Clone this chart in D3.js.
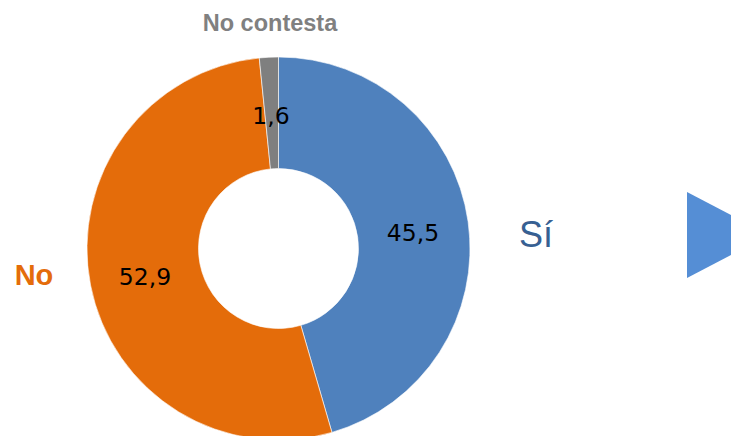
<!DOCTYPE html>
<html><head><meta charset="utf-8">
<script src="https://cdn.jsdelivr.net/npm/d3@7"></script>
<style>html,body{margin:0;padding:0;background:#fff;}svg{display:block;}</style>
</head><body>
<script>
const categories = ["Sí", "No", "No contesta"];
const values = [45.5, 52.9, 1.6];
const valueLabels = ["45,5", "52,9", "1,6"];
const colors = ["#4F81BD", "#E46C0A", "#7F7F7F"];

const W = 731, H = 436;
const svg = d3.select("body").append("svg").attr("width", W).attr("height", H);
const cx = 278.5, cy = 248.5, R = 191.5, r = 80;

const pie = d3.pie().sort(null).value(d => d.v);
const data = categories.map((c, i) => ({c, v: values[i], lab: valueLabels[i], col: colors[i]}));
const arcs = pie(data);
const arc = d3.arc().innerRadius(r).outerRadius(R);

const g = svg.append("g").attr("transform", `translate(${cx},${cy})`);
g.selectAll("path").data(arcs).enter().append("path")
  .attr("d", arc).attr("fill", d => d.data.col)
  .attr("stroke", "#fff").attr("stroke-width", 0.6);

// value label offsets from centre
const labPos = [[134.5, -15.5], [-133.5, 28.5], [-7.5, -132.5]];
g.selectAll("text.v").data(arcs).enter().append("text")
  .attr("class", "v")
  .attr("x", (d, i) => labPos[i][0]).attr("y", (d, i) => labPos[i][1])
  .attr("text-anchor", "middle").attr("dominant-baseline", "central")
  .attr("font-family", "DejaVu Sans, Verdana, sans-serif").attr("font-size", 23.5)
  .attr("fill", "#000").text(d => d.data.lab);

// category labels
svg.append("text").attr("x", 536).attr("y", 247).attr("text-anchor", "middle")
  .attr("font-family", "Liberation Sans, Arial, sans-serif").attr("font-size", 36)
  .attr("fill", "#376092").text(categories[0]);
svg.append("text").attr("x", 34).attr("y", 285).attr("text-anchor", "middle")
  .attr("font-family", "Liberation Sans, Arial, sans-serif").attr("font-size", 29).attr("font-weight", "bold")
  .attr("fill", "#E46C0A").text(categories[1]);
svg.append("text").attr("x", 270).attr("y", 31).attr("text-anchor", "middle")
  .attr("font-family", "Liberation Sans, Arial, sans-serif").attr("font-size", 23.5).attr("font-weight", "bold")
  .attr("fill", "#808080").text(categories[2]);

// decorative arrow
svg.append("path").attr("d", "M687,192 L769,235 L687,278 Z").attr("fill", "#558ED5");
</script>
</body></html>
